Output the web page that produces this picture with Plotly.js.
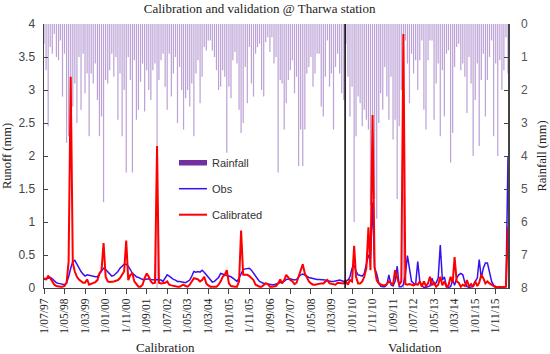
<!DOCTYPE html>
<html>
<head>
<meta charset="utf-8">
<script src="https://cdn.plot.ly/plotly-3.0.1.min.js"></script>
<style>html,body{margin:0;padding:0;background:#fff}#chart{width:550px;height:354px}</style>
</head>
<body>
<div id="chart"></div>
<script>
// Monthly series, starting July 1997
const startYear = 1997, startMonth = 7;

const rainfall = [
0.6,1.4,3.1,0.7,0.9,0.3,1.0,1.1,0.5,2.2,0.9,3.6,3.4,2.8,2.5,1.8,3.0,1.0,2.6,0.9,
2.1,1.5,3.4,1.5,1.8,1.2,2.3,3.4,2.8,5.4,1.7,1.8,1.4,0.9,1.6,1.0,2.9,1.5,3.4,2.0,
4.5,1.0,1.7,4.5,1.1,2.9,2.6,1.75,1.2,2.65,1.4,2.0,2.3,1.4,1.2,8.0,1.7,1.1,0.9,1.9,
2.6,0.9,2.2,1.5,1.0,3.0,1.3,2.0,3.2,2.25,2.0,2.5,1.8,3.4,1.5,1.1,2.4,1.6,0.7,0.8,
0.5,0.5,0.8,1.0,1.4,2.0,1.9,1.4,1.6,3.9,1.9,2.25,1.1,0.85,1.2,2.6,3.3,3.0,1.3,2.4,
0.7,1.8,2.2,0.9,0.7,0.6,2.0,2.2,0.55,0.4,0.85,0.4,1.2,1.0,4.5,1.7,1.8,3.2,2.4,1.7,
1.4,1.1,2.1,1.6,4.3,3.2,4.3,3.2,1.5,1.3,1.0,1.9,1.5,0.9,0.9,2.5,2.8,1.6,0.5,1.9,
1.5,3.2,1.3,0.9,1.5,2.1,2.3,0.6,1.6,2.8,1.9,6.0,3.4,2.2,2.4,3.1,2.6,2.9,3.2,5.5,
4.2,5.3,5.9,3.0,2.1,2.6,1.3,2.2,2.9,1.6,3.5,2.9,5.3,3.1,2.0,8.0,0.5,1.2,2.4,0.9,
1.5,1.1,2.0,1.1,0.5,2.6,3.2,1.1,0.5,0.5,2.9,1.8,1.2,3.4,1.4,2.8,0.9,0.8,4.2,3.3,
1.3,0.7,0.6,1.4,1.2,1.6,2.7,1.0,1.8,4.0,2.3,1.2,3.7,1.7,0.9,2.8,1.7,1.0,0.5,3.4,
1.2,4.0,1.1,2.0,1.4,0.4,1.5
];

const obs = [
0.13,0.14,0.15,0.16,0.14,0.11,0.08,0.07,0.06,0.05,0.05,0.08,0.17,0.30,0.40,0.42,0.36,0.30,0.25,0.21,
0.18,0.20,0.19,0.19,0.18,0.17,0.17,0.22,0.27,0.30,0.28,0.25,0.21,0.18,0.19,0.22,0.25,0.30,0.33,0.36,
0.36,0.33,0.28,0.22,0.20,0.17,0.16,0.14,0.13,0.13,0.14,0.14,0.13,0.12,0.12,0.13,0.13,0.12,0.10,0.15,
0.20,0.18,0.15,0.13,0.12,0.10,0.10,0.09,0.08,0.08,0.10,0.12,0.18,0.25,0.24,0.25,0.24,0.27,0.24,0.20,
0.17,0.13,0.09,0.10,0.13,0.16,0.22,0.21,0.20,0.20,0.18,0.17,0.15,0.12,0.10,0.15,0.22,0.28,0.29,0.30,
0.30,0.27,0.22,0.17,0.14,0.10,0.08,0.07,0.07,0.06,0.05,0.05,0.05,0.06,0.07,0.08,0.08,0.10,0.13,0.14,
0.14,0.13,0.12,0.13,0.17,0.20,0.21,0.20,0.18,0.16,0.15,0.14,0.13,0.13,0.13,0.13,0.13,0.12,0.11,0.10,
0.10,0.10,0.11,0.11,0.12,0.11,0.10,0.11,0.12,0.17,0.30,0.35,0.25,0.20,0.19,0.18,0.22,0.35,0.50,0.45,
1.30,0.30,0.22,0.08,0.03,0.02,0.02,0.05,0.20,0.05,0.03,0.10,0.33,0.02,0.02,0.05,0.20,0.49,0.30,0.10,
0.07,0.06,0.40,0.10,0.03,0.01,0.01,0.02,0.03,0.15,0.05,0.08,0.15,0.65,0.12,0.17,0.02,0.01,0.02,0.12,
0.04,0.15,0.20,0.22,0.20,0.08,0.02,0.01,0.01,0.02,0.10,0.15,0.43,0.15,0.30,0.38,0.38,0.25,0.10,0.04,
0.02,0.01,0.01,0.01,0.01,0.02,2.00
];

const calibrated = [
0.15,0.13,0.18,0.15,0.10,0.05,0.03,0.02,0.02,0.02,0.03,0.08,0.40,3.20,0.38,0.25,0.17,0.13,0.10,0.08,
0.08,0.13,0.05,0.06,0.07,0.09,0.12,0.22,0.27,0.68,0.17,0.10,0.09,0.09,0.10,0.11,0.12,0.15,0.20,0.25,
0.72,0.12,0.20,0.22,0.10,0.05,0.02,0.02,0.05,0.15,0.22,0.17,0.10,0.07,0.08,2.15,0.08,0.07,0.07,0.08,
0.10,0.05,0.04,0.03,0.03,0.02,0.02,0.04,0.05,0.03,0.02,0.05,0.10,0.15,0.14,0.13,0.10,0.12,0.17,0.07,
0.04,0.02,0.02,0.02,0.02,0.05,0.10,0.17,0.20,0.27,0.07,0.03,0.02,0.02,0.02,0.10,0.87,0.20,0.20,0.20,
0.18,0.15,0.12,0.05,0.03,0.02,0.02,0.05,0.07,0.06,0.02,0.02,0.02,0.03,0.07,0.13,0.07,0.12,0.20,0.16,
0.12,0.10,0.06,0.08,0.17,0.25,0.36,0.22,0.15,0.10,0.07,0.05,0.05,0.06,0.06,0.07,0.07,0.09,0.12,0.07,
0.06,0.05,0.05,0.08,0.08,0.07,0.07,0.10,0.05,0.12,0.10,0.64,0.17,0.07,0.07,0.10,0.17,0.30,0.92,0.27,
2.62,0.32,0.12,0.07,0.05,0.04,0.04,0.06,0.10,0.07,0.05,0.27,0.17,0.05,0.10,3.85,0.06,0.05,0.06,0.05,
0.04,0.06,0.05,0.10,0.02,0.10,0.03,0.07,0.17,0.05,0.08,0.02,0.05,0.17,0.04,0.10,0.02,0.04,0.17,0.08,
0.47,0.10,0.08,0.02,0.05,0.03,0.12,0.02,0.06,0.02,0.10,0.03,0.08,0.20,0.15,0.07,0.10,0.07,0.05,0.02,
0.01,0.01,0.02,0.01,0.01,0.02,0.93
];

const tickLabels = ["1/07/97","1/05/98","1/03/99","1/01/00","1/11/00","1/09/01","1/07/02","1/05/03",
"1/03/04","1/01/05","1/11/05","1/09/06","1/07/07","1/05/08","1/03/09","1/01/10","1/11/10","1/09/11",
"1/07/12","1/05/13","1/03/14","1/01/15","1/11/15"];

const splitDate = "2009-09-20";

// month categories
const months = rainfall.map((_, i) => {
  const t = (startMonth - 1) + i;
  const y = startYear + Math.floor(t / 12);
  const m = (t % 12) + 1;
  return y + "-" + String(m).padStart(2, "0") + "-01";
});
const tickVals = tickLabels.map((_, i) => months[i * 10]);

const serif = "Liberation Serif, Times New Roman, serif";
const sans = "Liberation Sans, Arial, sans-serif";

const traces = [
  {type: "bar", x: months, y: rainfall, yaxis: "y", name: "Rainfall",
   marker: {color: "#BCA2D6"}, showlegend: false, hoverinfo: "x+y"},
  {type: "scatter", mode: "lines", x: months, y: obs, yaxis: "y2", name: "Obs",
   line: {color: "#3A10F0", width: 1.5}, showlegend: false},
  {type: "scatter", mode: "lines", x: months, y: calibrated, yaxis: "y2", name: "Calibrated",
   line: {color: "#FF0000", width: 2}, showlegend: false}
];

const px = v => (v - 44) / 464, py = v => (288 - v) / 264;

const layout = {
  width: 550, height: 354,
  margin: {l: 44, r: 42, t: 24, b: 66},
  paper_bgcolor: "#fff", plot_bgcolor: "#fff",
  showlegend: false,
  bargap: 0.35,
  title: {text: "Calibration and validation @ Tharwa station", x: 0.472, xanchor: "center", y: 0.975, yanchor: "middle",
          font: {family: serif, size: 13, color: "#222"}},
  xaxis: {type: "date", range: [months[0], months[months.length - 1]],
          tickvals: tickVals, ticktext: tickLabels, tickangle: -90,
          ticks: "outside", ticklen: 5, tickcolor: "#444", showline: true, linecolor: "#444", linewidth: 1,
          showgrid: false, zeroline: false,
          tickfont: {family: serif, size: 11.5, color: "#222"}},
  yaxis: {side: "right", range: [8, 0], dtick: 1, ticks: "inside", ticklen: 4, tickcolor: "#444",
          showline: true, linecolor: "#444", linewidth: 1.5, showgrid: false, zeroline: false,
          ticklabelstandoff: 9,
          tickfont: {family: sans, size: 12, color: "#555"},
          title: {text: "Rainfall (mm)", standoff: 10, font: {family: serif, size: 12.5, color: "#222"}}},
  yaxis2: {overlaying: "y", side: "left", range: [0, 4], dtick: 0.5, ticks: "inside", ticklen: 4, tickcolor: "#444",
           showline: true, linecolor: "#444", linewidth: 1.5, showgrid: false, zeroline: false,
           ticklabelstandoff: 5,
           tickfont: {family: sans, size: 12, color: "#444"},
           title: {text: "Runoff (mm)", standoff: 4, font: {family: serif, size: 12.5, color: "#222"}}},
  shapes: [
    {type: "line", xref: "x", yref: "paper", x0: splitDate, x1: splitDate, y0: 0, y1: 1,
     line: {color: "#000", width: 1.5}},
    {type: "rect", xref: "paper", yref: "paper", x0: px(179), x1: px(207), y0: py(165.5), y1: py(160),
     fillcolor: "#7030A0", line: {width: 0}},
    {type: "line", xref: "paper", yref: "paper", x0: px(179), x1: px(207), y0: py(188.7), y1: py(188.7),
     line: {color: "#3A10F0", width: 1.5}},
    {type: "line", xref: "paper", yref: "paper", x0: px(179), x1: px(207), y0: py(214.7), y1: py(214.7),
     line: {color: "#FF0000", width: 2}}
  ],
  annotations: [
    {text: "Rainfall", xref: "paper", yref: "paper", x: px(210), y: py(163), xanchor: "left", yanchor: "middle",
     showarrow: false, font: {family: sans, size: 11, color: "#333"}},
    {text: "Obs", xref: "paper", yref: "paper", x: px(210), y: py(188.7), xanchor: "left", yanchor: "middle",
     showarrow: false, font: {family: sans, size: 11, color: "#333"}},
    {text: "Calibrated", xref: "paper", yref: "paper", x: px(210), y: py(214.7), xanchor: "left", yanchor: "middle",
     showarrow: false, font: {family: sans, size: 11, color: "#333"}},
    {text: "Calibration", xref: "paper", yref: "paper", x: px(165), y: py(347), xanchor: "center", yanchor: "middle",
     showarrow: false, font: {family: serif, size: 13, color: "#222"}},
    {text: "Validation", xref: "paper", yref: "paper", x: px(415), y: py(347), xanchor: "center", yanchor: "middle",
     showarrow: false, font: {family: serif, size: 13, color: "#222"}}
  ]
};

Plotly.newPlot("chart", traces, layout, {displayModeBar: false, staticPlot: true});
</script>
</body>
</html>
